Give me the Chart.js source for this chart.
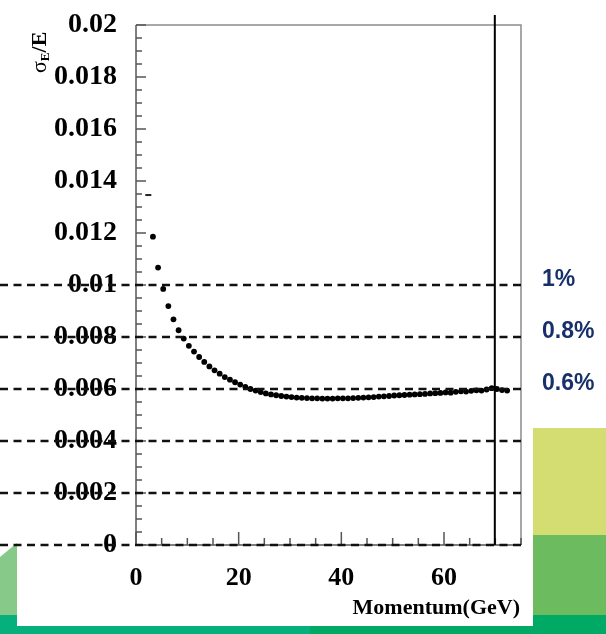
<!DOCTYPE html>
<html>
<head>
<meta charset="utf-8">
<title>Energy resolution vs momentum</title>
<script src="https://cdn.jsdelivr.net/npm/chart.js@4.4.1/dist/chart.umd.min.js"></script>
<style>
  html, body { margin: 0; padding: 0; background: #fff; }
  #wrap { width: 606px; height: 634px; }
</style>
</head>
<body>
<div id="wrap"><canvas id="chart" width="606" height="634"></canvas></div>
<script>
// sigma_E/E versus momentum
const momentum = [
  3.3, 4.3, 5.3, 6.3, 7.3, 8.3, 9.3, 10.3, 11.3, 12.3,
  13.3, 14.3, 15.3, 16.3, 17.3, 18.3, 19.3, 20.3, 21.3, 22.3,
  23.3, 24.3, 25.3, 26.3, 27.3, 28.3, 29.3, 30.3, 31.3, 32.3,
  33.3, 34.3, 35.3, 36.3, 37.3, 38.3, 39.3, 40.3, 41.3, 42.3,
  43.3, 44.3, 45.3, 46.3, 47.3, 48.3, 49.3, 50.3, 51.3, 52.3,
  53.3, 54.3, 55.3, 56.3, 57.3, 58.3, 59.3, 60.3, 61.3, 62.3,
  63.3, 64.3, 65.3, 66.3, 67.3, 68.3, 69.3, 70.3, 71.3, 72.3
];
const resolution = [
  0.01186, 0.01067, 0.00985, 0.00919, 0.00868, 0.00826, 0.00794, 0.00766, 0.00744, 0.00723,
  0.00704, 0.00687, 0.00672, 0.00659, 0.00646, 0.00636, 0.00626, 0.00617, 0.00608, 0.00600,
  0.00594, 0.00588, 0.00583, 0.00579, 0.00576, 0.00573, 0.00571, 0.00569, 0.00567, 0.00566,
  0.00565, 0.00564, 0.00564, 0.00563, 0.00563, 0.00563, 0.00564, 0.00564, 0.00564, 0.00565,
  0.00566, 0.00567, 0.00568, 0.00569, 0.00571, 0.00572, 0.00573, 0.00575, 0.00576, 0.00577,
  0.00578, 0.00579, 0.00580, 0.00581, 0.00583, 0.00584, 0.00585, 0.00587, 0.00586, 0.00589,
  0.00591, 0.00590, 0.00593, 0.00595, 0.00594, 0.00598, 0.00603, 0.00600, 0.00596, 0.00594
];
// the half-drawn mark near the top left of the curve
const strayMomentum = [2.4];
const strayResolution = [0.01346];

const markerMomentum = 69.9;
const refLevels = [0.01, 0.008, 0.006, 0.004, 0.002, 0];
const refTags = ['1%', '0.8%', '0.6%'];
const xLabelEvery = 20;
const yLabelEvery = 0.002;

function isMultiple(v, step) {
  const r = v / step;
  return Math.abs(r - Math.round(r)) < 1e-6;
}

// slide background: white page, green blocks at the bottom right
const slideBackdrop = {
  id: 'slideBackdrop',
  beforeDraw(chart) {
    const ctx = chart.ctx;
    ctx.save();
    ctx.fillStyle = '#ffffff';
    ctx.fillRect(0, 0, 606, 634);
    ctx.fillStyle = '#d3dd72';
    ctx.fillRect(533, 428, 73, 107);
    ctx.fillStyle = '#6dbb5f';
    ctx.fillRect(533, 535, 73, 80);
    ctx.fillStyle = '#05b07c';
    ctx.fillRect(0, 615, 310, 19);
    ctx.fillStyle = '#00a964';
    ctx.fillRect(310, 615, 296, 19);
    ctx.fillStyle = '#86c989';
    ctx.beginPath();
    ctx.moveTo(0, 557);
    ctx.lineTo(17, 543);
    ctx.lineTo(17, 615);
    ctx.lineTo(0, 615);
    ctx.closePath();
    ctx.fill();
    ctx.fillStyle = '#ffffff';
    ctx.fillRect(17, 0, 516, 626);
    ctx.restore();
  }
};

// frame, inward ticks, marker line, dashed reference levels and titles
const frameOverlay = {
  id: 'frameOverlay',
  afterDraw(chart) {
    const { ctx, chartArea: a, scales: { x, y } } = chart;
    ctx.save();

    ctx.strokeStyle = '#8c8c8c';
    ctx.lineWidth = 1.5;
    ctx.beginPath();
    ctx.moveTo(a.left, a.top);
    ctx.lineTo(a.right, a.top);
    ctx.lineTo(a.right, a.bottom);
    ctx.stroke();

    ctx.strokeStyle = '#555';
    ctx.lineWidth = 1.5;
    ctx.beginPath();
    ctx.moveTo(a.left, a.top);
    ctx.lineTo(a.left, a.bottom);
    ctx.lineTo(a.right, a.bottom);
    ctx.stroke();

    ctx.beginPath();
    y.ticks.forEach(t => {
      const py = y.getPixelForValue(t.value);
      const len = isMultiple(t.value, yLabelEvery) ? 10 : 6;
      ctx.moveTo(a.left, py);
      ctx.lineTo(a.left + len, py);
    });
    x.ticks.forEach(t => {
      const px = x.getPixelForValue(t.value);
      const len = isMultiple(t.value, xLabelEvery) ? 13 : 7;
      ctx.moveTo(px, a.bottom);
      ctx.lineTo(px, a.bottom - len);
    });
    ctx.stroke();

    const mx = x.getPixelForValue(markerMomentum);
    ctx.strokeStyle = '#000';
    ctx.lineWidth = 2;
    ctx.beginPath();
    ctx.moveTo(mx, a.top - 10);
    ctx.lineTo(mx, a.bottom);
    ctx.stroke();

    ctx.strokeStyle = '#111';
    ctx.lineWidth = 2.3;
    ctx.setLineDash([8, 5.5]);
    ctx.beginPath();
    refLevels.forEach(v => {
      const py = Math.round(y.getPixelForValue(v));
      ctx.moveTo(0, py);
      ctx.lineTo(a.right, py);
    });
    ctx.stroke();
    ctx.setLineDash([]);

    ctx.fillStyle = '#17306a';
    ctx.font = 'bold 23px "Liberation Sans", Arial, sans-serif';
    ctx.textAlign = 'left';
    ctx.textBaseline = 'middle';
    refTags.forEach((tag, i) => {
      ctx.fillText(tag, 542, y.getPixelForValue(refLevels[i]) - 5);
    });

    ctx.fillStyle = '#000';
    ctx.font = 'bold 22px "Liberation Serif", serif';
    ctx.textAlign = 'right';
    ctx.fillText('Momentum(GeV)', a.right - 1, 608);

    // sigma_E / E, rotated, with subscript
    ctx.translate(46, 73);
    ctx.rotate(-Math.PI / 2);
    ctx.textAlign = 'left';
    ctx.textBaseline = 'alphabetic';
    ctx.font = '22px "Liberation Serif", serif';
    ctx.fillText('σ', 0, 0);
    let cx = ctx.measureText('σ').width;
    ctx.font = 'bold 13px "Liberation Serif", serif';
    ctx.fillText('E', cx, 3);
    cx += ctx.measureText('E').width;
    ctx.font = 'bold 22px "Liberation Serif", serif';
    ctx.fillText('/E', cx, 0);

    ctx.restore();
  }
};

Chart.defaults.font.family = '"Liberation Serif", serif';
Chart.defaults.color = '#000';

new Chart(document.getElementById('chart'), {
  type: 'scatter',
  data: {
    datasets: [
      {
        data: momentum.map((m, i) => ({ x: m, y: resolution[i] })),
        pointRadius: 2.9,
        pointBackgroundColor: '#000',
        pointBorderWidth: 0
      },
      {
        data: strayMomentum.map((m, i) => ({ x: m, y: strayResolution[i] })),
        pointStyle: 'line',
        pointRadius: 3,
        pointBorderColor: '#222',
        pointBorderWidth: 2
      }
    ]
  },
  options: {
    responsive: false,
    animation: false,
    devicePixelRatio: 1,
    layout: { padding: { top: 25, right: 85, left: 0, bottom: 0 } },
    plugins: { legend: { display: false }, tooltip: { enabled: false } },
    scales: {
      x: {
        type: 'linear',
        min: 0,
        max: 75,
        border: { display: false },
        grid: { display: false, drawTicks: false },
        ticks: {
          stepSize: 5,
          autoSkip: false,
          maxRotation: 0,
          padding: 18,
          font: { size: 26, weight: 'bold' },
          callback: v => (isMultiple(v, xLabelEvery) ? String(v) : '')
        },
        afterFit(scale) {
          scale.height = 89;
          scale.paddingLeft = 0;
          scale.paddingRight = 0;
        }
      },
      y: {
        min: 0,
        max: 0.02,
        border: { display: false },
        grid: { display: false, drawTicks: false },
        ticks: {
          stepSize: 0.0005,
          maxTicksLimit: 100,
          autoSkip: false,
          padding: 19,
          font: { size: 28, weight: 'bold' },
          callback: v => {
            if (!isMultiple(v, yLabelEvery)) return '';
            return Math.abs(v) < 1e-9 ? '0' : String(+v.toFixed(3));
          }
        },
        afterFit(scale) {
          scale.width = 136;
          scale.paddingTop = 0;
          scale.paddingBottom = 0;
        }
      }
    }
  },
  plugins: [slideBackdrop, frameOverlay]
});
</script>
</body>
</html>
